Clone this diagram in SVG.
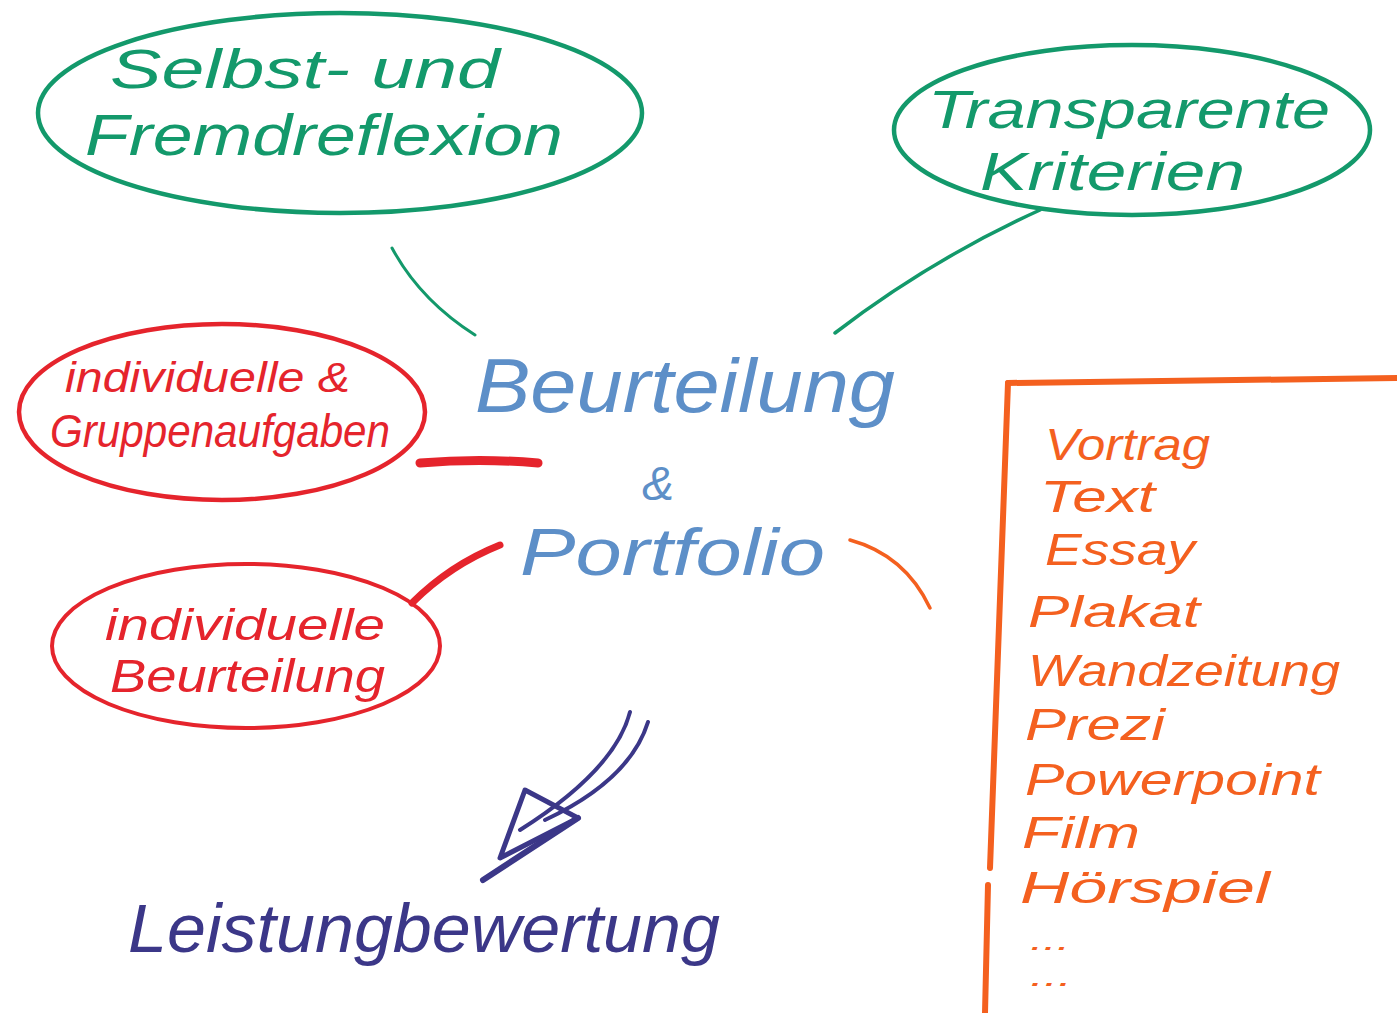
<svg xmlns="http://www.w3.org/2000/svg" width="1397" height="1013" viewBox="0 0 1397 1013">
<style>
.t{font-family:"Liberation Sans","DejaVu Sans",sans-serif;font-style:italic}
.g{fill:#13996b}.gs{stroke:#13996b;fill:none;stroke-linecap:round}
.b{fill:#5d8fc8}.r{fill:#e5242c}.rs{stroke:#e5242c;fill:none;stroke-linecap:round}
.o{fill:#f4601f}.os{stroke:#f4601f;fill:none;stroke-linecap:round}
.n{fill:#3b3788}.ns{stroke:#3b3788;fill:none;stroke-linecap:round;stroke-linejoin:round}
</style>
<rect width="1397" height="1013" fill="#ffffff"/>
<g id="connectors">
<path class="gs" stroke-width="3" d="M392,248 Q420,300 475,335"/>
<path class="gs" stroke-width="3.5" d="M1040,210 Q930,260 835,333"/>
<path class="rs" stroke-width="9" d="M420,463 Q480,458 538,463"/>
<path class="rs" stroke-width="7" d="M412,603 Q450,565 500,545"/>
<path class="os" stroke-width="3.5" d="M850,540 Q905,555 930,608"/>
<g id="arrow">
<path class="ns" stroke-width="4" d="M630,712 Q615,770 520,830"/>
<path class="ns" stroke-width="4" d="M648,722 Q630,780 545,820"/>
<path class="ns" stroke-width="5" d="M525,790 L500,858 L578,818 Z"/>
<path class="ns" stroke-width="6" d="M578,818 L483,880"/>
</g>
</g>
<g id="selbst">
<ellipse class="gs" stroke-width="4.5" cx="340" cy="113" rx="302" ry="100"/>
<text class="t g" x="110" y="88" font-size="56" textLength="390" lengthAdjust="spacingAndGlyphs">Selbst- und</text>
<text class="t g" x="85" y="155" font-size="58" textLength="478" lengthAdjust="spacingAndGlyphs">Fremdreflexion</text>
</g>
<g id="kriterien">
<ellipse class="gs" stroke-width="4.5" cx="1132" cy="130" rx="238" ry="85"/>
<text class="t g" x="928" y="128" font-size="54" textLength="402" lengthAdjust="spacingAndGlyphs">Transparente</text>
<text class="t g" x="980" y="190" font-size="54" textLength="265" lengthAdjust="spacingAndGlyphs">Kriterien</text>
</g>
<g id="center">
<text class="t b" x="475" y="412" font-size="76" textLength="420" lengthAdjust="spacingAndGlyphs">Beurteilung</text>
<text class="t b" x="642" y="500" font-size="48">&amp;</text>
<text class="t b" x="520" y="575" font-size="66" textLength="305" lengthAdjust="spacingAndGlyphs">Portfolio</text>
</g>
<g id="gruppen">
<ellipse class="rs" stroke-width="4.5" cx="222" cy="412" rx="203" ry="88"/>
<text class="t r" x="65" y="392" font-size="42" textLength="285" lengthAdjust="spacingAndGlyphs">individuelle &amp;</text>
<text class="t r" x="50" y="447" font-size="46" textLength="340" lengthAdjust="spacingAndGlyphs">Gruppenaufgaben</text>
</g>
<g id="individuell">
<ellipse class="rs" stroke-width="4" cx="246" cy="646" rx="194" ry="82"/>
<text class="t r" x="105" y="640" font-size="44" textLength="280" lengthAdjust="spacingAndGlyphs">individuelle</text>
<text class="t r" x="110" y="692" font-size="46" textLength="275" lengthAdjust="spacingAndGlyphs">Beurteilung</text>
</g>
<g id="formen">
<path class="os" stroke-width="6" d="M1008,383 L1397,378"/>
<path class="os" stroke-width="6" d="M1008,383 L990,868"/>
<path class="os" stroke-width="6" d="M988,885 L985,1013"/>
<g class="t o" font-size="44">
<text x="1045" y="460" textLength="165" lengthAdjust="spacingAndGlyphs">Vortrag</text>
<text x="1040" y="512" textLength="115" lengthAdjust="spacingAndGlyphs">Text</text>
<text x="1045" y="565" textLength="150" lengthAdjust="spacingAndGlyphs">Essay</text>
<text x="1028" y="627" textLength="172" lengthAdjust="spacingAndGlyphs">Plakat</text>
<text x="1028" y="686" textLength="312" lengthAdjust="spacingAndGlyphs">Wandzeitung</text>
<text x="1025" y="740" textLength="140" lengthAdjust="spacingAndGlyphs">Prezi</text>
<text x="1025" y="795" textLength="295" lengthAdjust="spacingAndGlyphs">Powerpoint</text>
<text x="1022" y="848" textLength="118" lengthAdjust="spacingAndGlyphs">Film</text>
<text x="1020" y="903" textLength="250" lengthAdjust="spacingAndGlyphs">Hörspiel</text>
<text x="1030" y="950" font-size="28" textLength="40" lengthAdjust="spacingAndGlyphs">...</text>
<text x="1030" y="986" font-size="28" textLength="42" lengthAdjust="spacingAndGlyphs">...</text>
</g>
</g>
<g id="leistung">
<text class="t n" x="128" y="952" font-size="68" textLength="592" lengthAdjust="spacingAndGlyphs">Leistungbewertung</text>
</g>
</svg>
